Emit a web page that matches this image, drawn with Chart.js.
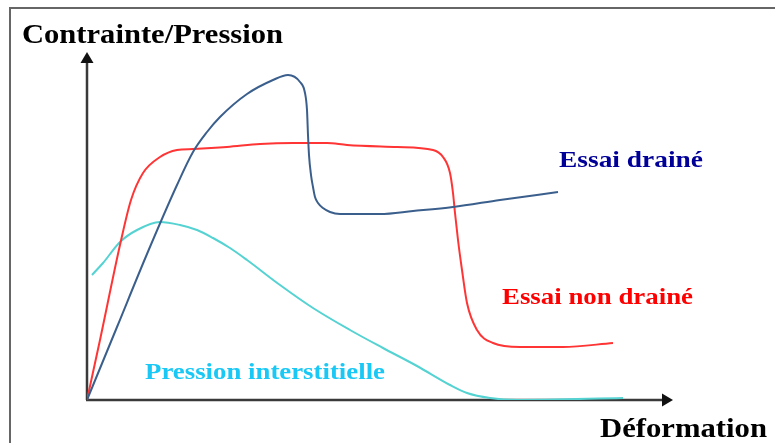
<!DOCTYPE html>
<html><head><meta charset="utf-8">
<script src="https://cdn.jsdelivr.net/npm/chart.js@4"></script>
<style>html,body{margin:0;padding:0;background:#fff;}canvas{display:block;}</style>
</head><body>
<canvas id="c" width="775" height="443"></canvas>
<script>
// Schematic curves (arbitrary units): x = déformation, y = contrainte / pression
const drainedX   = [0, 30, 60, 90, 106, 120, 133, 160, 186, 201, 213, 218, 220, 221, 222, 224, 226, 228, 231, 236, 243, 253, 293, 326, 366, 413, 471];
const drainedY   = [0, 73, 146, 215, 248, 268, 283, 306, 320, 325, 318, 307, 290, 265, 245, 225, 213, 203, 197, 192, 188, 186, 186, 189, 193, 200, 208];
const undrainedX = [0, 13, 33, 44, 56, 73, 90, 106, 140, 173, 206, 240, 260, 310, 346, 356, 363, 366, 368, 371, 375, 380, 390, 406, 433, 476, 526];
const undrainedY = [0, 60, 155, 200, 227, 243, 250, 251, 253, 256, 257, 257, 255, 253, 250, 243, 227, 207, 187, 160, 130, 97, 70, 57, 53, 53, 57];
const poreX      = [5, 16, 33, 50, 73, 93, 110, 126, 143, 160, 193, 226, 263, 296, 330, 363, 380, 403, 430, 536];
const poreY      = [125, 137, 158, 170, 178, 175, 170, 162, 152, 140, 115, 92, 70, 52, 34, 15, 7, 2, 0, 2];
const xMax = 586, yMax = 348;

const seriesNames = ['Essai drainé', 'Essai non drainé', 'Pression interstitielle'];
const yAxisTitle = 'Contrainte/Pression';
const xAxisTitle = 'Déformation';

const toPts = (xs, ys) => xs.map((x, i) => ({x, y: ys[i]}));

// text labels: [text, left px, baseline px, font size, target width, colour]
const labels = [
  [yAxisTitle, 22, 43, 27, 261, '#000000'],
  [xAxisTitle, 600, 437, 28, 167, '#000000'],
  [seriesNames[0], 559, 167, 24, 144, '#000099'],
  [seriesNames[1], 502, 304, 24, 191, '#ff0000'],
  [seriesNames[2], 145, 379, 24, 240, '#19c8f5'],
];

const decor = {
  id: 'decor',
  beforeDatasetsDraw(chart) {
    const ctx = chart.ctx;
    const xs = chart.scales.x, ys = chart.scales.y;
    const ox = xs.getPixelForValue(0), oy = ys.getPixelForValue(0);
    const xe = xs.getPixelForValue(xMax), ye = ys.getPixelForValue(yMax);
    ctx.save();
    ctx.strokeStyle = '#666';
    ctx.lineWidth = 2;
    ctx.beginPath();
    ctx.moveTo(10, 443); ctx.lineTo(10, 8); ctx.lineTo(775, 8);
    ctx.stroke();
    ctx.strokeStyle = '#3a3a3a';
    ctx.fillStyle = '#111';
    ctx.lineWidth = 2.5;
    ctx.beginPath();
    ctx.moveTo(ox, oy); ctx.lineTo(ox, ye + 8);
    ctx.moveTo(ox - 1, oy); ctx.lineTo(xe - 8, oy);
    ctx.stroke();
    ctx.beginPath();
    ctx.moveTo(ox, ye); ctx.lineTo(ox - 6.5, ye + 11); ctx.lineTo(ox + 6.5, ye + 11); ctx.closePath();
    ctx.fill();
    ctx.beginPath();
    ctx.moveTo(xe, oy); ctx.lineTo(xe - 11, oy - 6.5); ctx.lineTo(xe - 11, oy + 6.5); ctx.closePath();
    ctx.fill();
    ctx.restore();
  },
  afterDraw(chart) {
    const ctx = chart.ctx;
    ctx.save();
    ctx.textBaseline = 'alphabetic';
    ctx.textAlign = 'left';
    for (const [t, x, y, size, w, col] of labels) {
      ctx.font = 'bold ' + size + 'px "Liberation Serif", "DejaVu Serif", serif';
      const m = ctx.measureText(t).width;
      const s = w / m;
      ctx.save();
      ctx.translate(x, y);
      ctx.scale(s, 1);
      ctx.fillStyle = col;
      ctx.fillText(t, 0, 0);
      ctx.restore();
    }
    ctx.restore();
  }
};

new Chart(document.getElementById('c'), {
  type: 'scatter',
  data: {
    datasets: [
      {label: seriesNames[0], data: toPts(drainedX, drainedY), borderColor: '#3b5f8c', borderWidth: 2},
      {label: seriesNames[1], data: toPts(undrainedX, undrainedY), borderColor: '#ff3535', borderWidth: 2},
      {label: seriesNames[2], data: toPts(poreX, poreY), borderColor: '#55d2d2', borderWidth: 2},
    ].map(d => Object.assign(d, {showLine: true, pointRadius: 0, cubicInterpolationMode: 'monotone', fill: false}))
  },
  options: {
    responsive: false,
    animation: false,
    devicePixelRatio: 1,
    layout: {padding: {left: 87, right: 102, top: 52, bottom: 43}},
    plugins: {legend: {display: false}, tooltip: {enabled: false}, title: {display: false}},
    scales: {
      x: {type: 'linear', min: 0, max: xMax, display: false},
      y: {type: 'linear', min: 0, max: yMax, display: false}
    }
  },
  plugins: [decor]
});
</script>
</body></html>
